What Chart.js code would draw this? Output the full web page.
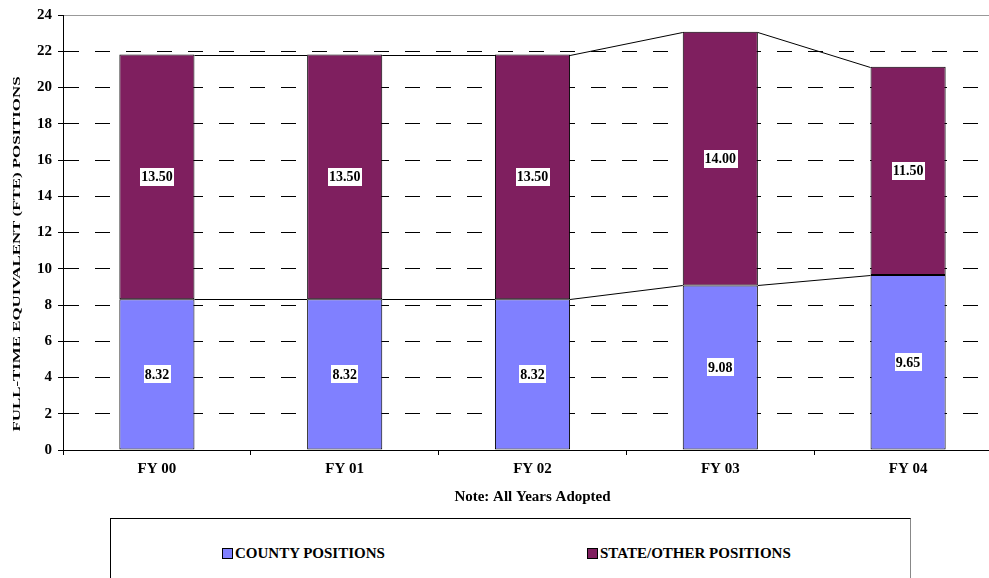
<!DOCTYPE html>
<html>
<head>
<meta charset="utf-8">
<script src="https://cdn.jsdelivr.net/npm/chart.js"></script>
<style>
  html, body { margin: 0; padding: 0; background: #fff; overflow: hidden; width: 989px; height: 578px; }
  #wrap { position: absolute; left: 0; top: 0; width: 1004px; height: 510px; }
  #legend {
    position: absolute; left: 110px; top: 518px; width: 801px; height: 80px;
    border: 1px solid #000; border-right-color: #888; box-sizing: border-box;
    font: bold 15px "Liberation Serif", "Times New Roman", serif; color: #000;
  }
  #legend .item { position: absolute; top: 27px; white-space: nowrap; line-height: 15px; }
  #legend .sw { display: inline-block; width: 9px; height: 9px; border: 1px solid #000; margin-right: 2px; vertical-align: -1px; }
</style>
</head>
<body>
<div id="wrap"><canvas id="fteChart"></canvas></div>
<div id="legend"></div>
<script>
// fiscal years and adopted FTE counts
const years = ['FY 00', 'FY 01', 'FY 02', 'FY 03', 'FY 04'];
const countyPositions = [8.32, 8.32, 8.32, 9.08, 9.65];
const statePositions = [13.5, 13.5, 13.5, 14.0, 11.5];
const yTicks = [0, 2, 4, 6, 8, 10, 12, 14, 16, 18, 20, 22, 24];

const seriesNames = ['COUNTY POSITIONS', 'STATE/OTHER POSITIONS'];
const seriesColors = ['#8080FF', '#7F1F5F'];
const legendLeft = [111, 476];

const serif = '"Liberation Serif", "Times New Roman", serif';

// Excel-style series lines joining the tops of neighbouring bars
const seriesLines = {
  id: 'seriesLines',
  afterDatasetsDraw(chart) {
    const ctx = chart.ctx;
    ctx.save();
    ctx.strokeStyle = '#000';
    ctx.lineWidth = 1;
    chart.data.datasets.forEach((ds, di) => {
      const bars = chart.getDatasetMeta(di).data;
      for (let i = 0; i < bars.length - 1; i++) {
        const a = bars[i], b = bars[i + 1];
        ctx.beginPath();
        ctx.moveTo(a.x + a.width / 2, Math.round(a.y) + 0.5);
        ctx.lineTo(b.x - b.width / 2, Math.round(b.y) + 0.5);
        ctx.stroke();
      }
    });
    ctx.restore();
  }
};

// value labels in white boxes at the middle of each segment
const valueLabels = {
  id: 'valueLabels',
  afterDatasetsDraw(chart) {
    const ctx = chart.ctx;
    ctx.save();
    ctx.font = 'bold 14px ' + serif;
    ctx.textAlign = 'center';
    ctx.textBaseline = 'middle';
    chart.data.datasets.forEach((ds, di) => {
      chart.getDatasetMeta(di).data.forEach((bar, i) => {
        const txt = ds.data[i].toFixed(2);
        const cy = (bar.y + bar.base) / 2;
        const w = ctx.measureText(txt).width + 2;
        ctx.fillStyle = '#fff';
        ctx.fillRect(Math.round(bar.x - w / 2), Math.round(cy - 9), Math.round(w), 18);
        ctx.fillStyle = '#000';
        ctx.fillText(txt, bar.x, cy + 1);
      });
    });
    ctx.restore();
  }
};

// vertical axis title, stretched along its length
const yTitle = {
  id: 'yTitle',
  afterDraw(chart) {
    const ctx = chart.ctx;
    const txt = 'FULL-TIME EQUIVALENT (FTE) POSITIONS';
    ctx.save();
    ctx.font = 'bold 11px ' + serif;
    ctx.fillStyle = '#000';
    ctx.textAlign = 'center';
    ctx.textBaseline = 'middle';
    const sx = 355 / ctx.measureText(txt).width;
    ctx.translate(17, 254);
    ctx.rotate(-Math.PI / 2);
    ctx.scale(sx, 1);
    ctx.fillText(txt, 0, 0);
    ctx.restore();
  }
};

const ctx = document.getElementById('fteChart').getContext('2d');
new Chart(ctx, {
  type: 'bar',
  data: {
    labels: years,
    datasets: [
      { label: seriesNames[0], data: countyPositions, backgroundColor: seriesColors[0] },
      { label: seriesNames[1], data: statePositions, backgroundColor: seriesColors[1] }
    ].map(d => Object.assign(d, {
      borderColor: '#000', borderWidth: 1, borderSkipped: false,
      barPercentage: 0.4, categoryPercentage: 1
    }))
  },
  options: {
    responsive: true,
    maintainAspectRatio: false,
    animation: false,
    layout: { padding: { left: 0, right: 2, top: 15, bottom: 0 } },
    plugins: { legend: { display: false }, tooltip: { enabled: false } },
    scales: {
      x: {
        stacked: true,
        afterFit: s => { s.height = 60; },
        grid: { drawOnChartArea: false, drawTicks: true, tickLength: 5, color: '#000', offset: true },
        border: { color: '#000', width: 1 },
        ticks: { color: '#000', padding: 5, font: { family: serif, size: 15, weight: 'bold' } },
        title: {
          display: true, text: 'Note: All Years Adopted', color: '#000',
          padding: { top: 4, bottom: 4 },
          font: { family: serif, size: 15, weight: 'bold' }
        }
      },
      y: {
        stacked: true,
        min: 0, max: 24,
        afterFit: s => { s.width = 63; },
        afterBuildTicks: s => { s.ticks = yTicks.map(v => ({ value: v })); },
        grid: {
          color: c => (c.tick && c.tick.value === 24) ? '#999' : '#000',
          tickColor: '#000',
          tickLength: 5
        },
        border: {
          color: '#000', width: 1,
          dash: c => (c.tick && c.tick.value === 24) ? [] : [15, 16]
        },
        ticks: { color: '#000', padding: 6, font: { family: serif, size: 15, weight: 'bold' } }
      }
    }
  },
  plugins: [seriesLines, valueLabels, yTitle]
});

// legend box under the chart
const legend = document.getElementById('legend');
seriesNames.forEach((name, i) => {
  const item = document.createElement('div');
  item.className = 'item';
  item.style.left = legendLeft[i] + 'px';
  item.innerHTML = '<span class="sw" style="background:' + seriesColors[i] + '"></span>' + name;
  legend.appendChild(item);
});
</script>
</body>
</html>
